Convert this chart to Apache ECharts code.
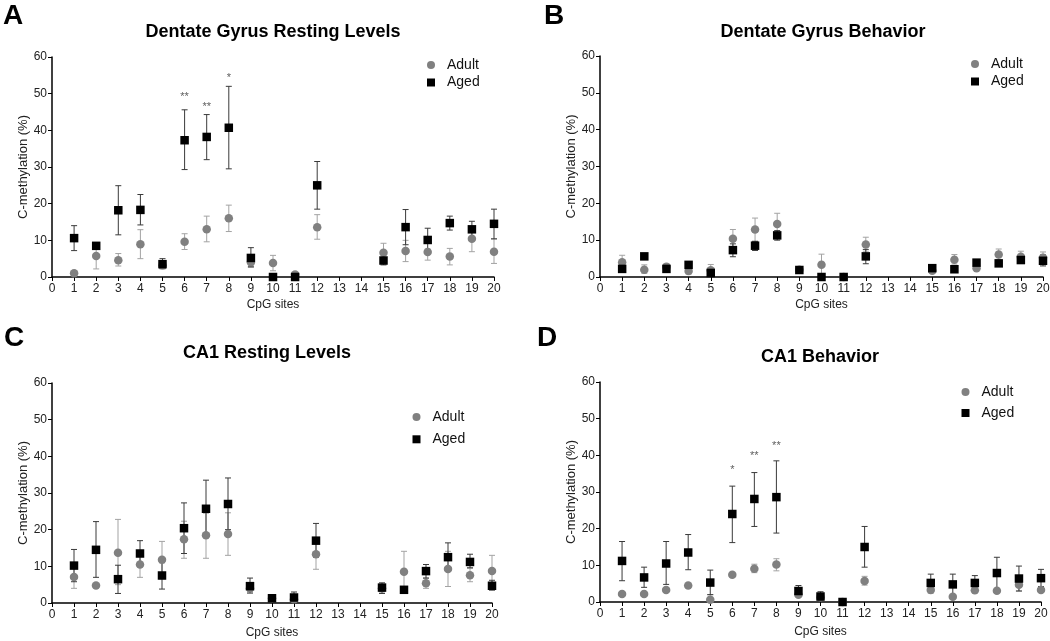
<!DOCTYPE html>
<html>
<head>
<meta charset="utf-8">
<script src="https://cdn.jsdelivr.net/npm/echarts@6/dist/echarts.min.js"></script>
<style>
html,body{margin:0;padding:0;background:#fff;}
#chart{width:1050px;height:641px;}
</style>
</head>
<body>
<div id="chart"></div>
<script>
// ---------- DATA ----------
const sites = [1,2,3,4,5,6,7,8,9,10,11,12,15,16,17,18,19,20];
const xTicks = [0,1,2,3,4,5,6,7,8,9,10,11,12,13,14,15,16,17,18,19,20];
const yTicks = [0,10,20,30,40,50,60];
const panelTitles = ['Dentate Gyrus Resting Levels','Dentate Gyrus Behavior','CA1 Resting Levels','CA1 Behavior'];
const panelLetters = ['A','B','C','D'];

// A: Dentate Gyrus Resting Levels
const dgRestAdult     = [1.0, 5.7, 4.6, 8.9, 3.2, 9.6, 13.0, 16.0, 4.0, 3.8, 0.7, 13.6, 6.6, 7.1, 6.8, 5.6, 10.4, 6.9];
const dgRestAdultLow  = [0.5, 2.2, 3.0, 5.0, 2.2, 7.5, 9.6, 12.4, 2.6, 1.7, 0.3, 10.3, 4.5, 4.2, 4.6, 3.3, 6.9, 3.7];
const dgRestAdultHigh = [1.5, 7.8, 6.4, 12.9, 4.4, 11.8, 16.6, 19.6, 5.4, 5.9, 1.2, 17.0, 9.2, 10.0, 7.6, 7.8, 13.0, 10.4];
const dgRestAged      = [10.6, 8.5, 18.2, 18.3, 3.5, 37.3, 38.2, 40.7, 5.2, 0.0, 0.0, 25.0, 4.5, 13.6, 10.1, 14.7, 13.0, 14.5];
const dgRestAgedLow   = [7.2, 8.5, 11.5, 14.2, 2.3, 29.3, 32.0, 29.5, 2.8, 0.0, 0.0, 18.5, 3.3, 8.8, 6.8, 12.8, 10.6, 10.4];
const dgRestAgedHigh  = [14.0, 8.5, 24.9, 22.5, 5.0, 45.6, 44.3, 52.0, 8.0, 0.0, 0.0, 31.5, 6.4, 18.4, 13.3, 16.6, 15.2, 18.5];
const dgRestSig       = [[6, 49.9, '**'], [7, 47.2, '**'], [8, 55.1, '*']];

// B: Dentate Gyrus Behavior
const dgBehAdult      = [4.0, 2.0, 2.8, 1.6, 1.8, 10.4, 12.9, 14.4, 2.0, 3.3, 0.0, 8.8, 1.7, 4.7, 2.4, 6.1, 5.5, 5.2];
const dgBehAdultLow   = [2.5, 1.0, 2.0, 0.8, 1.0, 8.0, 9.6, 11.5, 1.4, 0.8, 0.0, 7.0, 1.0, 3.5, 1.8, 4.8, 4.0, 3.5];
const dgBehAdultHigh  = [5.9, 3.3, 3.6, 2.5, 3.4, 12.9, 16.0, 17.3, 2.6, 6.2, 0.0, 10.8, 2.4, 6.1, 3.0, 7.6, 7.0, 6.8];
const dgBehAged       = [2.2, 5.6, 2.2, 3.3, 1.1, 7.3, 8.5, 11.3, 1.9, 0.0, 0.0, 5.6, 2.4, 2.1, 3.9, 3.7, 4.6, 4.4];
const dgBehAgedLow    = [1.6, 5.6, 1.6, 2.4, 0.3, 5.5, 7.2, 10.0, 1.5, 0.0, 0.0, 3.6, 1.8, 1.6, 3.2, 3.0, 3.8, 3.0];
const dgBehAgedHigh   = [2.8, 5.6, 2.8, 4.2, 1.9, 9.0, 9.7, 12.6, 2.3, 0.0, 0.0, 7.5, 3.0, 2.6, 4.6, 4.4, 5.7, 6.0];

// C: CA1 Resting Levels
const caRestAdult     = [7.1, 4.8, 13.7, 10.5, 11.8, 17.4, 18.5, 18.8, 4.0, 1.3, 1.0, 13.3, 4.0, 8.5, 5.4, 9.3, 7.6, 8.7];
const caRestAdultLow  = [4.0, 4.8, 5.0, 7.0, 6.6, 12.2, 12.2, 13.0, 3.0, 0.8, 0.5, 9.2, 3.0, 3.4, 4.0, 4.5, 5.8, 4.5];
const caRestAdultHigh = [10.2, 4.8, 22.8, 13.8, 16.8, 22.3, 24.5, 24.6, 5.0, 1.8, 1.5, 17.3, 5.0, 14.1, 6.8, 14.1, 9.5, 13.0];
const caRestAged      = [10.2, 14.5, 6.5, 13.5, 7.5, 20.4, 25.7, 27.0, 4.6, 1.3, 1.5, 17.0, 4.2, 3.6, 8.7, 12.5, 11.2, 4.7];
const caRestAgedLow   = [5.8, 7.0, 2.6, 10.0, 3.8, 13.5, 18.0, 20.0, 2.7, 0.8, 0.5, 12.5, 2.6, 3.6, 6.8, 9.0, 9.6, 3.5];
const caRestAgedHigh  = [14.6, 22.2, 10.3, 17.0, 11.0, 27.3, 33.5, 34.1, 6.8, 1.8, 3.0, 21.7, 5.5, 3.6, 10.5, 16.4, 13.3, 6.2];

// D: CA1 Behavior
const caBehAdult      = [2.2, 2.2, 3.3, 4.5, 0.6, 7.4, 9.1, 10.2, 2.0, 1.3, 0.0, 5.7, 3.3, 1.4, 3.2, 3.1, 4.7, 3.3];
const caBehAdultLow   = [1.8, 1.8, 2.8, 4.0, 0.0, 7.0, 8.0, 8.5, 1.6, 0.8, 0.0, 4.6, 2.4, 1.0, 2.8, 2.8, 3.0, 2.8];
const caBehAdultHigh  = [2.6, 2.6, 3.8, 5.0, 2.0, 7.8, 10.3, 11.8, 2.4, 1.8, 0.0, 7.0, 4.5, 1.8, 3.6, 3.4, 6.5, 3.8];
const caBehAged       = [11.2, 6.7, 10.5, 13.5, 5.3, 24.0, 28.1, 28.6, 3.0, 1.5, 0.0, 15.0, 5.2, 4.8, 5.2, 7.9, 6.4, 6.5];
const caBehAgedLow    = [5.8, 4.0, 4.8, 8.8, 2.0, 16.2, 20.6, 18.8, 1.8, 0.5, 0.0, 9.5, 3.0, 1.0, 3.5, 3.5, 3.0, 4.2];
const caBehAgedHigh   = [16.5, 9.5, 16.5, 18.4, 8.7, 31.6, 35.3, 38.5, 4.5, 2.8, 0.0, 20.6, 7.6, 7.6, 7.2, 12.2, 9.8, 8.9];
const caBehSig        = [[6, 36.9, '*'], [7, 40.7, '**'], [8, 43.5, '**']];

// ---------- BUILD ----------
const FONT = '"Liberation Sans", Arial, sans-serif';
const panels = [
  {adult: dgRestAdult, aLow: dgRestAdultLow, aHigh: dgRestAdultHigh, aged: dgRestAged, gLow: dgRestAgedLow, gHigh: dgRestAgedHigh, sig: dgRestSig},
  {adult: dgBehAdult, aLow: dgBehAdultLow, aHigh: dgBehAdultHigh, aged: dgBehAged, gLow: dgBehAgedLow, gHigh: dgBehAgedHigh, sig: []},
  {adult: caRestAdult, aLow: caRestAdultLow, aHigh: caRestAdultHigh, aged: caRestAged, gLow: caRestAgedLow, gHigh: caRestAgedHigh, sig: []},
  {adult: caBehAdult, aLow: caBehAdultLow, aHigh: caBehAdultHigh, aged: caBehAged, gLow: caBehAgedLow, gHigh: caBehAgedHigh, sig: caBehSig}
];

const grids = [
  {left: 52, top: 57, width: 442, height: 220},
  {left: 600, top: 56, width: 443, height: 221},
  {left: 52, top: 383, width: 440, height: 220},
  {left: 600, top: 382, width: 441, height: 220}
];
const titlePos = [[273, 32], [823, 32], [267, 353], [820, 357]];
const letterPos = [[13, 16], [554, 16], [14, 338], [547, 338]];
const legendPos = [
  {left: 427, top: 58, gap: 3.5},
  {left: 971, top: 57, gap: 3.5},
  {left: 412.5, top: 410, gap: 8.3},
  {left: 961.5, top: 385, gap: 7}
];

function errBarSeries(name, idx, lows, highs, color) {
  return {
    type: 'custom', name: name, xAxisIndex: idx, yAxisIndex: idx, z: 2,
    silent: true, clip: false,
    data: sites.map((s, k) => [s, lows[k], highs[k]]),
    encode: {x: 0, y: [1, 2]},
    renderItem: function (params, api) {
      const lo = api.coord([api.value(0), api.value(1)]);
      const hi = api.coord([api.value(0), api.value(2)]);
      const cw = 3;
      const st = {stroke: color, lineWidth: 1};
      return {type: 'group', children: [
        {type: 'line', shape: {x1: lo[0], y1: lo[1], x2: hi[0], y2: hi[1]}, style: st},
        {type: 'line', shape: {x1: hi[0] - cw, y1: hi[1], x2: hi[0] + cw, y2: hi[1]}, style: st},
        {type: 'line', shape: {x1: lo[0] - cw, y1: lo[1], x2: lo[0] + cw, y2: lo[1]}, style: st}
      ]};
    }
  };
}

const series = [];
const xAxes = [];
const yAxes = [];
const legends = [];
const graphics = [];

panels.forEach((p, i) => {
  xAxes.push({
    type: 'value', gridIndex: i, min: 0, max: 20, interval: 1,
    name: 'CpG sites', nameLocation: 'middle', nameGap: i < 2 ? 22 : 24,
    nameTextStyle: {fontFamily: FONT, fontSize: 12, color: '#222'},
    axisLine: {show: true, onZero: false, lineStyle: {color: '#000', width: 1.5}},
    axisTick: {show: true, length: 4, lineStyle: {color: '#000', width: 1}},
    axisLabel: {fontFamily: FONT, fontSize: 12, color: '#222', margin: 6,
      formatter: v => xTicks.indexOf(v) >= 0 ? String(v) : ''},
    splitLine: {show: false}
  });
  yAxes.push({
    type: 'value', gridIndex: i, min: 0, max: 60, interval: 10,
    name: 'C-methylation (%)', nameLocation: 'middle', nameGap: 22,
    nameTextStyle: {fontFamily: FONT, fontSize: 13, color: '#222'},
    axisLine: {show: true, lineStyle: {color: '#000', width: 1.5}},
    axisTick: {show: true, length: 4, lineStyle: {color: '#000', width: 1}},
    axisLabel: {fontFamily: FONT, fontSize: 12, color: '#222', margin: 5,
      formatter: v => yTicks.indexOf(v) >= 0 ? String(v) : ''},
    splitLine: {show: false}
  });

  series.push(errBarSeries('Adult SEM', i, p.aLow, p.aHigh, '#a3a3a3'));
  series.push({
    type: 'scatter', name: 'Adult', xAxisIndex: i, yAxisIndex: i, z: 3,
    symbol: 'circle', symbolSize: 8.5,
    itemStyle: {color: '#808080', opacity: 1},
    data: sites.map((s, k) => [s, p.adult[k]])
  });
  series.push(errBarSeries('Aged SEM', i, p.gLow, p.gHigh, '#3a3a3a'));
  series.push({
    type: 'scatter', name: 'Aged', xAxisIndex: i, yAxisIndex: i, z: 4,
    symbol: 'rect', symbolSize: 8.5,
    itemStyle: {color: '#000', opacity: 1},
    data: sites.map((s, k) => [s, p.aged[k]])
  });
  if (p.sig.length) {
    series.push({
      type: 'scatter', name: 'sig', xAxisIndex: i, yAxisIndex: i, z: 5,
      symbolSize: 0, silent: true,
      data: p.sig,
      label: {show: true, position: 'inside', offset: [0, 3],
        formatter: d => d.data[2],
        fontFamily: FONT, fontSize: 11, color: '#333'}
    });
  }

  const lp = legendPos[i];
  legends.push({
    left: lp.left, top: lp.top, orient: 'vertical', padding: 0,
    itemWidth: 8, itemHeight: 8, itemGap: lp.gap,
    selectedMode: false,
    data: [{name: 'Adult', icon: 'circle'}, {name: 'Aged', icon: 'rect'}],
    textStyle: {fontFamily: FONT, fontSize: 14, lineHeight: 14, color: '#111', padding: [0, 0, 0, 7]}
  });

  graphics.push({
    type: 'text', x: titlePos[i][0], y: titlePos[i][1],
    style: {text: panelTitles[i], font: 'bold 18px ' + FONT, fill: '#000', align: 'center', verticalAlign: 'middle'}
  });
  graphics.push({
    type: 'text', x: letterPos[i][0], y: letterPos[i][1],
    style: {text: panelLetters[i], font: 'bold 28px ' + FONT, fill: '#000', align: 'center', verticalAlign: 'middle'}
  });
});

const chart = echarts.init(document.getElementById('chart'), null, {renderer: 'canvas'});
chart.setOption({
  backgroundColor: '#fff',
  animation: false,
  textStyle: {fontFamily: FONT},
  grid: grids.map(g => Object.assign({containLabel: false, outerBoundsMode: 'none'}, g)),
  xAxis: xAxes,
  yAxis: yAxes,
  legend: legends,
  graphic: graphics,
  series: series
});
</script>
</body>
</html>
